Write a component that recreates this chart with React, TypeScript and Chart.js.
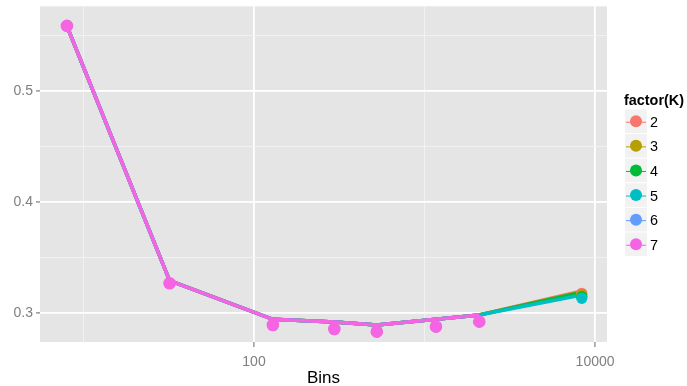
import React, { useEffect, useRef } from "react";
import { Chart, registerables } from "chart.js";

Chart.register(...registerables);

const X_VALUES = [8, 32, 129, 296, 525, 1167, 2094, 8360];
const K_LEVELS = ["2", "3", "4", "5", "6", "7"];
const COLORS = ["#F8766D", "#B79F00", "#00BA38", "#00BFC4", "#619CFF", "#F564E3"];

const LINE_K2 = [0.5580, 0.3293, 0.2946, 0.2922, 0.2895, 0.2946, 0.2985, 0.3200];
const LINE_K3 = [0.5581, 0.3293, 0.2946, 0.2922, 0.2895, 0.2946, 0.2985, 0.3193];
const LINE_K4 = [0.5582, 0.3293, 0.2946, 0.2922, 0.2895, 0.2946, 0.2985, 0.3188];
const LINE_K5 = [0.5582, 0.3293, 0.2946, 0.2922, 0.2895, 0.2946, 0.2985, 0.3165];
const LINE_K6 = [0.5583, 0.3293, 0.2946, 0.2922, 0.2895, 0.2946, 0.2985, null];
const LINE_K7 = [0.5583, 0.3293, 0.2946, 0.2922, 0.2895, 0.2946, 0.2985, null];

const POINT_K2 = [0.5584, 0.3270, 0.2895, 0.2859, 0.2835, 0.2880, 0.2925, 0.3180];
const POINT_K3 = [0.5584, 0.3270, 0.2895, 0.2859, 0.2835, 0.2880, 0.2925, 0.3165];
const POINT_K4 = [0.5584, 0.3270, 0.2895, 0.2859, 0.2835, 0.2880, 0.2925, 0.3150];
const POINT_K5 = [0.5584, 0.3270, 0.2895, 0.2859, 0.2835, 0.2880, 0.2925, 0.3135];
const POINT_K6 = [0.5584, 0.3270, 0.2895, 0.2859, 0.2835, 0.2880, 0.2925, null];
const POINT_K7 = [0.5584, 0.3270, 0.2895, 0.2859, 0.2835, 0.2880, 0.2925, null];

const X_GRID = [10, 100, 1000, 10000];
const X_LABELED = [100, 10000];
const Y_GRID = [0.3, 0.35, 0.4, 0.45, 0.5, 0.55];
const Y_LABELED = [0.3, 0.4, 0.5];

const LINES = [LINE_K2, LINE_K3, LINE_K4, LINE_K5, LINE_K6, LINE_K7];
const POINTS = [POINT_K2, POINT_K3, POINT_K4, POINT_K5, POINT_K6, POINT_K7];

const FONT = "'Liberation Sans', Arial, Helvetica, sans-serif";

function toXY(vals: (number | null)[]) {
  const out: { x: number; y: number }[] = [];
  vals.forEach((v, i) => {
    if (v !== null) out.push({ x: X_VALUES[i], y: v });
  });
  return out;
}

const isLabeled = (v: number, list: number[]) => list.some((l) => Math.abs(l - v) < 1e-9);

const decorPlugin = {
  id: "decor",
  beforeDraw(chart: any) {
    const { ctx, chartArea } = chart;
    ctx.save();
    ctx.fillStyle = "#FFFFFF";
    ctx.fillRect(0, 0, chart.width, chart.height);
    ctx.fillStyle = "#E5E5E5";
    ctx.fillRect(chartArea.left, chartArea.top, chartArea.right - chartArea.left, chartArea.bottom - chartArea.top);
    ctx.restore();
  },
  afterDraw(chart: any) {
    const { ctx, chartArea } = chart;
    ctx.save();
    ctx.fillStyle = "#000000";
    ctx.font = `17px ${FONT}`;
    ctx.textAlign = "center";
    ctx.textBaseline = "middle";
    ctx.fillText("Bins", (chartArea.left + chartArea.right) / 2, 378);
    ctx.textAlign = "left";
    ctx.font = `bold 14.4px ${FONT}`;
    ctx.fillText("factor(K)", 624, 101);
    const boxX = 625;
    const boxW = 22;
    const boxH = 23.5;
    const step = 24.6;
    K_LEVELS.forEach((k, i) => {
      const top = 109.5 + step * i;
      ctx.fillStyle = "#F2F2F2";
      ctx.fillRect(boxX, top, boxW, boxH);
      const cy = top + boxH / 2;
      const cx = boxX + boxW / 2;
      ctx.strokeStyle = COLORS[i];
      ctx.lineWidth = 1;
      ctx.beginPath();
      ctx.moveTo(boxX + 1, cy + 1);
      ctx.lineTo(boxX + boxW - 1, cy + 1);
      ctx.stroke();
      ctx.fillStyle = COLORS[i];
      ctx.beginPath();
      ctx.arc(cx, cy, 6, 0, Math.PI * 2);
      ctx.fill();
      ctx.fillStyle = "#000000";
      ctx.font = `14.4px ${FONT}`;
      ctx.textBaseline = "middle";
      ctx.fillText(k, 650, cy + 1.5);
    });
    ctx.restore();
  },
};

export default function App() {
  const ref = useRef<HTMLCanvasElement | null>(null);
  useEffect(() => {
    if (!ref.current) return;
    const datasets: any[] = [];
    K_LEVELS.forEach((k, i) => {
      datasets.push({
        label: `line ${k}`,
        data: toXY(LINES[i]),
        showLine: true,
        borderColor: COLORS[i],
        backgroundColor: COLORS[i],
        borderWidth: 3.5,
        pointRadius: 0,
        order: 20 - i,
      });
    });
    K_LEVELS.forEach((k, i) => {
      datasets.push({
        label: `point ${k}`,
        data: toXY(POINTS[i]),
        showLine: false,
        borderColor: COLORS[i],
        backgroundColor: COLORS[i],
        pointRadius: i === 5 ? 6.3 : 5.6,
        pointBorderWidth: 0,
        order: 10 - i,
      });
    });
    const zeroPad = (scale: any) => {
      scale.paddingTop = 0;
      scale.paddingBottom = 0;
      scale.paddingLeft = 0;
      scale.paddingRight = 0;
    };
    const chart = new Chart(ref.current, {
      type: "scatter",
      data: { datasets },
      plugins: [decorPlugin],
      options: {
        responsive: false,
        animation: false,
        events: [],
        layout: { padding: { top: 6, right: 80, left: 0, bottom: 0 } },
        plugins: { legend: { display: false }, tooltip: { enabled: false } },
        scales: {
          x: {
            type: "logarithmic",
            position: "bottom",
            min: 5.56,
            max: 11750,
            afterBuildTicks: (scale: any) => {
              scale.ticks = X_GRID.map((v) => ({ value: v }));
            },
            afterFit: (scale: any) => {
              scale.height = 44;
              zeroPad(scale);
            },
            border: { display: false },
            grid: {
              color: (c: any) => (c.tick && isLabeled(c.tick.value, X_LABELED) ? "#FFFFFF" : "#F2F2F2"),
              lineWidth: (c: any) => (c.tick && isLabeled(c.tick.value, X_LABELED) ? 1.8 : 0.9),
              tickColor: (c: any) => (c.tick && isLabeled(c.tick.value, X_LABELED) ? "#7F7F7F" : "rgba(0,0,0,0)"),
              tickLength: 5,
              tickWidth: 1.2,
            },
            ticks: {
              autoSkip: false,
              maxRotation: 0,
              padding: 7,
              color: "#7F7F7F",
              font: { family: FONT, size: 14 },
              callback: (v: any) => (isLabeled(Number(v), X_LABELED) ? String(v) : ""),
            },
          },
          y: {
            type: "linear",
            min: 0.2742,
            max: 0.576,
            afterBuildTicks: (scale: any) => {
              scale.ticks = Y_GRID.map((v) => ({ value: v }));
            },
            afterFit: (scale: any) => {
              scale.width = 40;
              zeroPad(scale);
            },
            border: { display: false },
            grid: {
              color: (c: any) => (c.tick && isLabeled(c.tick.value, Y_LABELED) ? "#FFFFFF" : "#F2F2F2"),
              lineWidth: (c: any) => (c.tick && isLabeled(c.tick.value, Y_LABELED) ? 1.8 : 0.9),
              tickColor: (c: any) => (c.tick && isLabeled(c.tick.value, Y_LABELED) ? "#7F7F7F" : "rgba(0,0,0,0)"),
              tickLength: 4,
              tickWidth: 1.2,
            },
            ticks: {
              autoSkip: false,
              padding: 3,
              color: "#7F7F7F",
              font: { family: FONT, size: 14 },
              callback: (v: any) => (isLabeled(Number(v), Y_LABELED) ? Number(v).toFixed(1) : ""),
            },
          },
        },
      },
    });
    return () => chart.destroy();
  }, []);
  return (
    <div style={{ position: "fixed", left: 0, top: 0, width: 687, height: 386 }}>
      <canvas ref={ref} width={687} height={386} style={{ width: 687, height: 386, display: "block" }} />
    </div>
  );
}
